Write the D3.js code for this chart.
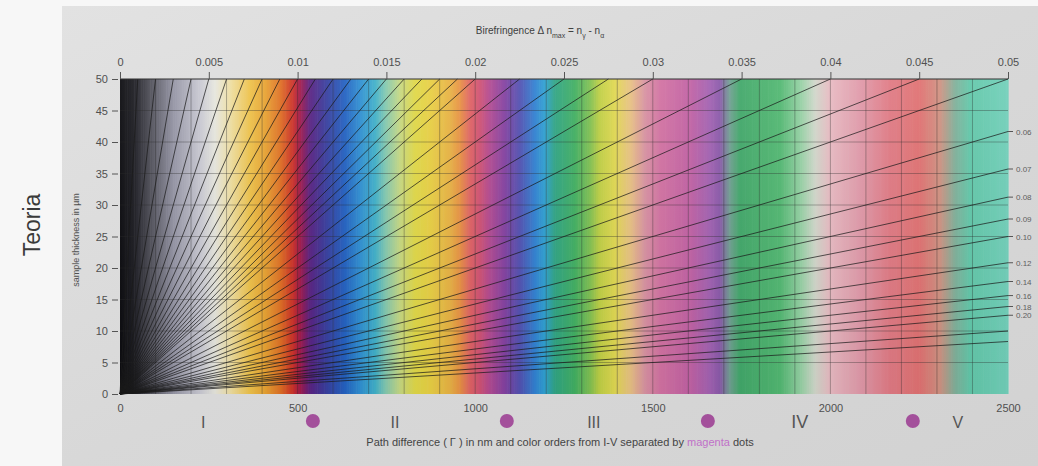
<!DOCTYPE html>
<html>
<head>
<meta charset="utf-8">
<script src="https://cdn.jsdelivr.net/npm/d3@7"></script>
<style>
  html, body { margin: 0; padding: 0; background: #f6f6f6; }
  svg { display: block; font-family: "Liberation Sans", Arial, sans-serif; }
</style>
</head>
<body>
<svg id="chart" width="1038" height="466"></svg>
<script>
// ---------- data ----------
const gammaTicks = [0, 500, 1000, 1500, 2000, 2500];
const thicknessTicks = [0, 5, 10, 15, 20, 25, 30, 35, 40, 45, 50];
const biTopTicks = [0, 0.005, 0.01, 0.015, 0.02, 0.025, 0.03, 0.035, 0.04, 0.045, 0.05];
const biTopLabels = ["0", "0.005", "0.01", "0.015", "0.02", "0.025", "0.03", "0.035", "0.04", "0.045", "0.05"];
const biRightTicks = [0.06, 0.07, 0.08, 0.09, 0.10, 0.12, 0.14, 0.16, 0.18, 0.20];
const biRightLabels = ["0.06", "0.07", "0.08", "0.09", "0.10", "0.12", "0.14", "0.16", "0.18", "0.20"];
const biLines = [0.001, 0.002, 0.003, 0.004, 0.005, 0.006, 0.007, 0.008, 0.009, 0.010,
                 0.011, 0.012, 0.013, 0.014, 0.015, 0.016, 0.017, 0.018, 0.019, 0.020,
                 0.0225, 0.025, 0.0275, 0.030, 0.035, 0.040, 0.045, 0.050,
                 0.06, 0.07, 0.08, 0.09, 0.10, 0.12, 0.14, 0.16, 0.18, 0.20,
                 0.25, 0.30];
const gridGamma = [100, 200, 300, 400, 500, 600, 700, 800, 900, 1000, 1100, 1200, 1300, 1400,
                   1500, 1600, 1700, 1800, 1900, 2000, 2100, 2200, 2300, 2400];
const orderNames = ["I", "II", "III", "IV", "V"];
const orderGamma = [234, 774, 1334, 1914, 2359];
const orderDots = [543, 1089, 1655, 2232];
// interference colours along path difference (nm)
const colorGamma = [0, 40, 90, 150, 225, 267, 310, 366, 408, 450, 487, 507, 535, 577, 633, 676, 718,
                    746, 788, 830, 873, 929, 957, 985, 1013, 1041, 1084, 1126, 1168, 1196, 1224,
                    1281, 1323, 1351, 1393, 1436, 1478, 1520, 1604, 1661, 1689, 1717, 1745, 1858,
                    1914, 1956, 1999, 2083, 2168, 2252, 2308, 2350, 2393, 2500];
const colorValues = ["#0c0c10", "#1e1e24", "#55555f", "#9494a4", "#c8c8d2", "#e6e6de", "#eedfa4",
                     "#eec24a", "#e8a434", "#e07224", "#cc3028", "#a21a4c", "#5a2282", "#3a3c9c",
                     "#2462c2", "#3090d2", "#40b0ca", "#80c8b2", "#c6d882", "#dfd848", "#e8d044",
                     "#e8b244", "#e89244", "#e06464", "#d05274", "#b24a92", "#8242a2", "#5252b2",
                     "#3282d2", "#30a2d2", "#30a484", "#42b062", "#80c052", "#c0d044", "#e0d852",
                     "#e8c282", "#d892a2", "#d272a2", "#c262a4", "#a262b2", "#8a5aaa", "#70a092",
                     "#42a86a", "#52b872", "#92d0a2", "#d0d8ca", "#e8bac2", "#e09aaa", "#e07a84",
                     "#e07272", "#d09282", "#82b09a", "#62c8aa", "#72d0ba"];

// ---------- layout ----------
const svg = d3.select("#chart");
const W = 1038, H = 466;
const x = d3.scaleLinear().domain([0, 2500]).range([120, 1008]);
const y = d3.scaleLinear().domain([0, 50]).range([394, 79]);
const xTop = d3.scaleLinear().domain([0, 0.05]).range([120, 1008]);
const col = d3.scaleLinear().domain(colorGamma).range(colorValues).interpolate(d3.interpolateRgb);

// paper / photo background
const defs = svg.append("defs");
const bg = defs.append("linearGradient").attr("id", "bg").attr("x1", 0).attr("y1", 0).attr("x2", 1).attr("y2", 1);
bg.append("stop").attr("offset", 0).attr("stop-color", "#e2e2e2");
bg.append("stop").attr("offset", 0.5).attr("stop-color", "#d8d8d8");
bg.append("stop").attr("offset", 1).attr("stop-color", "#d2d2d2");
svg.append("rect").attr("x", 0).attr("y", 0).attr("width", W).attr("height", H).attr("fill", "#f7f7f7");
svg.append("rect").attr("x", 62).attr("y", 6).attr("width", W - 62).attr("height", H - 6).attr("fill", "url(#bg)");

// "Teoria"
svg.append("text").attr("transform", "translate(40,225) rotate(-90)")
  .attr("text-anchor", "middle").attr("font-size", 23).attr("fill", "#3a3a3a").text("Teoria");

// colour bands
const step = 5;
const bands = d3.range(0, 2500, step);
svg.append("g").selectAll("rect").data(bands).join("rect")
  .attr("x", d => x(d)).attr("width", d => x(d + step) - x(d) + 0.6)
  .attr("y", y(50)).attr("height", y(0) - y(50))
  .attr("fill", d => col(d + step / 2));

// soft photo sheen
const sheen = defs.append("linearGradient").attr("id", "sheen").attr("x1", 0).attr("y1", 0).attr("x2", 0).attr("y2", 1);
sheen.append("stop").attr("offset", 0).attr("stop-color", "#ffffff").attr("stop-opacity", 0.06);
sheen.append("stop").attr("offset", 1).attr("stop-color", "#000000").attr("stop-opacity", 0.04);
svg.append("rect").attr("x", x(0)).attr("y", y(50)).attr("width", x(2500) - x(0)).attr("height", y(0) - y(50))
  .attr("fill", "url(#sheen)");

// grid
const grid = svg.append("g").attr("stroke", "#2a2a2a").attr("stroke-opacity", 0.35).attr("stroke-width", 1);
grid.selectAll("line.v").data(gridGamma).join("line").attr("class", "v")
  .attr("x1", d => x(d)).attr("x2", d => x(d)).attr("y1", y(0)).attr("y2", y(50));
grid.selectAll("line.h").data(thicknessTicks.slice(1, -1)).join("line").attr("class", "h")
  .attr("x1", x(0)).attr("x2", x(2500)).attr("y1", d => y(d)).attr("y2", d => y(d));

// birefringence lines
const biG = svg.append("g").attr("stroke", "#1a1a1a").attr("stroke-opacity", 0.72).attr("stroke-width", 1);
biG.selectAll("line").data(biLines).join("line")
  .attr("x1", x(0)).attr("y1", y(0))
  .attr("x2", d => x(Math.min(2500, d * 50000)))
  .attr("y2", d => y(Math.min(2500, d * 50000) / (d * 1000)));

// frame top
svg.append("line").attr("x1", x(0)).attr("x2", x(2500)).attr("y1", y(50)).attr("y2", y(50))
  .attr("stroke", "#333").attr("stroke-width", 1.2);

// left axis
const axL = svg.append("g").attr("transform", `translate(${x(0) - 2},0)`)
  .call(d3.axisLeft(y).tickValues(thicknessTicks).tickSize(6).tickPadding(4));
axL.select(".domain").remove();
axL.selectAll("line").attr("stroke", "#555");
axL.selectAll("text").attr("font-size", 11).attr("fill", "#505050");
svg.append("text").attr("transform", "translate(79,240) rotate(-90)").attr("text-anchor", "middle")
  .attr("font-size", 9).attr("fill", "#505050").text("sample thickness in µm");

// bottom axis
const axB = svg.append("g").attr("transform", `translate(0,${y(0) + 6})`)
  .call(d3.axisBottom(x).tickValues(gammaTicks).tickSize(0).tickPadding(4).tickFormat(d3.format("d")));
axB.select(".domain").remove();
axB.selectAll("text").attr("font-size", 11).attr("fill", "#505050");

// top axis
const axT = svg.append("g").attr("transform", `translate(0,${y(50)})`)
  .call(d3.axisTop(xTop).tickValues(biTopTicks).tickSize(7).tickPadding(6).tickFormat((d, i) => biTopLabels[i]));
axT.select(".domain").remove();
axT.selectAll("line").attr("stroke", "#555");
axT.selectAll("text").attr("font-size", 11).attr("fill", "#505050");
const title = svg.append("text").attr("x", 540).attr("y", 34).attr("text-anchor", "middle")
  .attr("font-size", 10).attr("fill", "#404040");
title.append("tspan").text("Birefringence Δ n");
title.append("tspan").attr("font-size", 7).attr("dy", 4).text("max");
title.append("tspan").attr("dy", -4).text(" = n");
title.append("tspan").attr("font-size", 7).attr("dy", 4).text("γ");
title.append("tspan").attr("dy", -4).text(" - n");
title.append("tspan").attr("font-size", 7).attr("dy", 4).text("α");

// right labels
const axR = svg.append("g").attr("transform", `translate(${x(2500)},0)`);
axR.selectAll("line").data(biRightTicks).join("line")
  .attr("x1", 0).attr("x2", 5)
  .attr("y1", d => y(2500 / (d * 1000))).attr("y2", d => y(2500 / (d * 1000)))
  .attr("stroke", "#555");
axR.selectAll("text").data(biRightTicks).join("text")
  .attr("x", 8).attr("y", d => y(2500 / (d * 1000)) + 3)
  .attr("font-size", 8).attr("fill", "#606060").text((d, i) => biRightLabels[i]);

// colour orders
svg.append("g").selectAll("text").data(orderNames).join("text")
  .attr("x", (d, i) => x(orderGamma[i])).attr("y", 428).attr("text-anchor", "middle")
  .attr("font-size", (d, i) => i === 3 ? 18 : 16).attr("fill", "#555").text(d => d);
svg.append("g").selectAll("circle").data(orderDots).join("circle")
  .attr("cx", d => x(d)).attr("cy", 421).attr("r", 7).attr("fill", "#a3509b");

// caption
const cap = svg.append("text").attr("x", 560).attr("y", 446).attr("text-anchor", "middle")
  .attr("font-size", 11).attr("fill", "#444");
cap.append("tspan").text("Path difference ( Γ ) in nm and color orders from I-V separated by ");
cap.append("tspan").attr("fill", "#c070c8").text("magenta");
cap.append("tspan").text(" dots");
</script>
</body>
</html>
